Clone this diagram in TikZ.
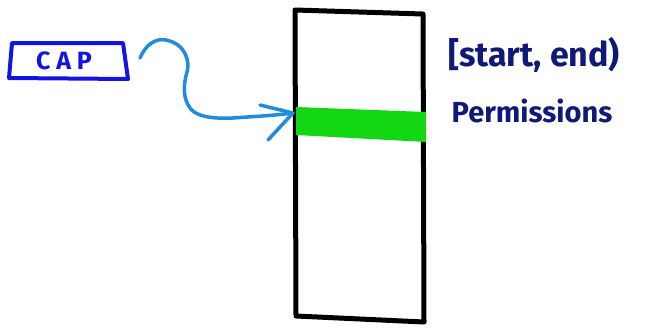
\documentclass[tikz,border=0pt]{standalone}
\usepackage{fontspec}
\setmainfont{Fira Sans}
\definecolor{capblue}{RGB}{20,20,225}
\definecolor{arrowblue}{RGB}{30,140,225}
\definecolor{navy}{RGB}{15,25,120}
\definecolor{bandgreen}{RGB}{20,215,20}
\begin{document}
\begin{tikzpicture}[x=1pt,y=-1pt,
  capbox/.style={draw=capblue,line width=4pt,line join=round},
  memline/.style={draw=black,line width=5pt,line join=round},
  curvy/.style={draw=arrowblue,line width=3.5pt,line cap=round,line join=round},
  handtext/.style={text=navy,inner sep=0pt}]
\useasboundingbox (0,0) rectangle (656,327);
% memory region
\draw[memline] (295,10) -- (423,14) -- (424,322) -- (296,316) -- cycle;
% green band
\fill[bandgreen] (296,107) -- (426,112) -- (426,142) -- (296,135) -- cycle;
\coordinate (band) at (293,113);
% CAP box
\draw[capbox] (12,43) -- (123,43) -- (128,79) -- (9,78) -- cycle;
\node[text=capblue,font=\fontsize{25}{27}\selectfont\bfseries,inner sep=0pt] (cap) at (64,61) {C A P};
\coordinate (capout) at (140,58);
% curvy arrow
\draw[curvy] (capout) .. controls (146,44) and (156,38) .. (166,40)
  .. controls (186,44) and (190,62) .. (187,72)
  .. controls (183,86) and (183,98) .. (190,108)
  .. controls (196,117) and (215,119) .. (233,118)
  .. controls (245,117) and (270,116) .. (band);
\coordinate (barbA) at (260,105);
\coordinate (barbB) at (268,140);
\draw[curvy] (barbA) -- (band) -- (barbB);
% texts
\node[handtext,font=\fontsize{34}{36}\selectfont\bfseries] (range) at (534,55) {[start, end)};
\node[handtext,font=\fontsize{29}{31}\selectfont\bfseries] (perm) at (532,111) {Permissions};
\end{tikzpicture}
\end{document}
